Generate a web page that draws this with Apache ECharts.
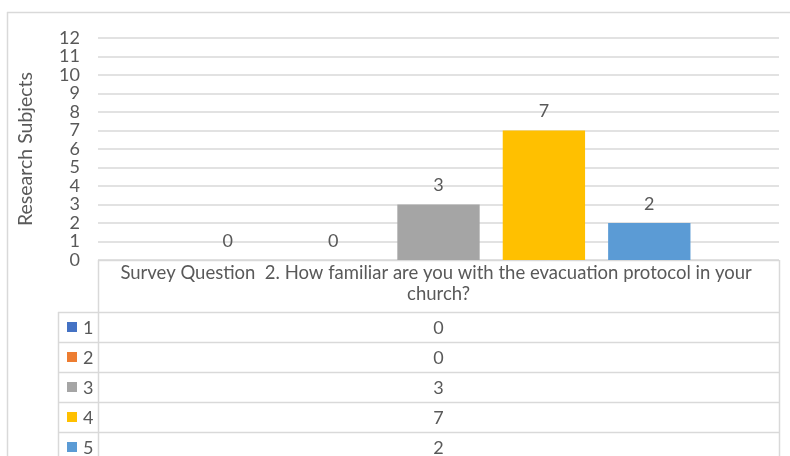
<!DOCTYPE html>
<html>
<head>
<meta charset="utf-8">
<script src="https://cdn.jsdelivr.net/npm/echarts@6/dist/echarts.min.js"></script>
<style>
  html, body { margin: 0; padding: 0; background: #ffffff; }
  #chart { width: 790px; height: 456px; }
</style>
</head>
<body>
<div id="chart"></div>
<script>
// Survey responses: one question, five answer levels
const categories = ['Survey Question  2. How familiar are you with the evacuation protocol in your church?'];
const seriesNames = ['1', '2', '3', '4', '5'];
const seriesValues = [0, 0, 3, 7, 2];
const seriesColors = ['#4472C4', '#ED7D31', '#A5A5A5', '#FFC000', '#5B9BD5'];
const axisTitle = 'Research Subjects';

const FONT = 'Lato, "Open Sans", sans-serif';
const FS = 18;
const TEXT = '#595959';
const LINE = '#d9d9d9';

// plot area
const plotLeft = 98, plotRight = 779, plotTop = 38, plotBottom = 260;
// data table under the plot
const headerH = 52, rowH = 30, keyColLeft = 58, pageH = 456;

const chart = echarts.init(document.getElementById('chart'), null, { renderer: 'canvas' });

const series = seriesNames.map((name, i) => ({
  name: name,
  type: 'bar',
  data: [seriesValues[i]],
  itemStyle: { color: seriesColors[i] },
  barGap: '28%',
  barCategoryGap: '26%',
  label: {
    show: true,
    position: 'top',
    distance: 10,
    color: TEXT,
    fontFamily: FONT,
    fontSize: FS
  }
}));

// table lines and cells
const g = [];
const hLine = (x1, x2, y) => g.push({
  type: 'line', silent: true,
  shape: { x1: x1, y1: y + 0.5, x2: x2, y2: y + 0.5 },
  style: { stroke: LINE, lineWidth: 1.5 }
});
const vLine = (x, y1, y2) => g.push({
  type: 'line', silent: true,
  shape: { x1: x + 0.5, y1: y1, x2: x + 0.5, y2: y2 },
  style: { stroke: LINE, lineWidth: 1.5 }
});

// outer chart frame
hLine(7, 790, 12);
vLine(7, 12, pageH);

// header box and value column
hLine(plotLeft, plotRight, plotBottom);
vLine(plotLeft, plotBottom, pageH);
vLine(plotRight, plotBottom, pageH);
vLine(keyColLeft, plotBottom + headerH, pageH);

const colCenter = (plotLeft + plotRight) / 2;
seriesNames.forEach((name, i) => {
  const top = plotBottom + headerH + i * rowH;
  hLine(keyColLeft, plotRight, top);
  g.push({
    type: 'rect', silent: true,
    shape: { x: 67, y: top + 10, width: 10, height: 10 },
    style: { fill: seriesColors[i] }
  });
  g.push({
    type: 'text', silent: true,
    style: {
      x: 83, y: top + rowH / 2 + 1, text: name,
      fill: TEXT, font: FS + 'px ' + FONT,
      textAlign: 'left', textVerticalAlign: 'middle'
    }
  });
  g.push({
    type: 'text', silent: true,
    style: {
      x: colCenter, y: top + rowH / 2 + 1, text: String(seriesValues[i]),
      fill: TEXT, font: FS + 'px ' + FONT,
      textAlign: 'center', textVerticalAlign: 'middle'
    }
  });
});
hLine(keyColLeft, plotRight, plotBottom + headerH + seriesNames.length * rowH);

chart.setOption({
  animation: false,
  backgroundColor: '#ffffff',
  textStyle: { fontFamily: FONT },
  grid: {
    left: plotLeft,
    right: 790 - plotRight,
    top: plotTop,
    bottom: pageH - plotBottom,
    containLabel: false
  },
  xAxis: {
    type: 'category',
    data: categories,
    axisLine: { show: false },
    axisTick: { show: false },
    axisLabel: {
      color: TEXT,
      fontFamily: FONT,
      fontSize: 18.5,
      lineHeight: 21,
      margin: 3,
      width: 660,
      overflow: 'break',
      align: 'center'
    }
  },
  yAxis: {
    type: 'value',
    min: 0,
    max: 12,
    interval: 1,
    name: axisTitle,
    nameLocation: 'middle',
    nameGap: 62,
    nameTextStyle: { color: TEXT, fontFamily: FONT, fontSize: 19.5 },
    axisLine: { show: false },
    axisTick: { show: false },
    axisLabel: { color: TEXT, fontFamily: FONT, fontSize: FS, margin: 18 },
    splitLine: { lineStyle: { color: LINE, width: 1.5 } }
  },
  series: series,
  graphic: g
});
</script>
</body>
</html>
